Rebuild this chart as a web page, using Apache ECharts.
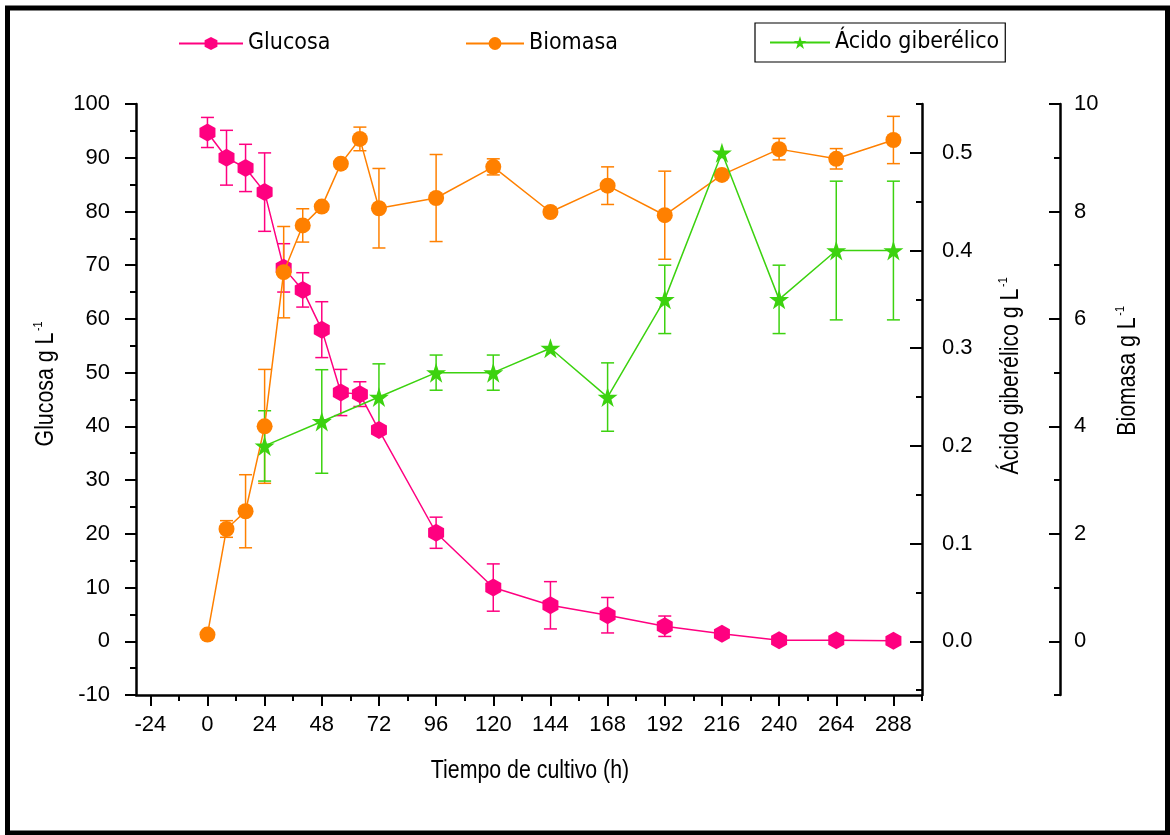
<!DOCTYPE html>
<html>
<head>
<meta charset="utf-8">
<script src="https://cdn.jsdelivr.net/npm/echarts@6.0.0/dist/echarts.min.js"></script>
<style>
html,body{margin:0;padding:0;background:#fff;}
#chart{width:1170px;height:835px;}
</style>
</head>
<body>
<div id="chart"></div>
<script>
// ---- data ----
var timeH = [0, 8, 16, 24, 32, 40, 48, 56, 64, 72, 96, 120, 144, 168, 192, 216, 240, 264, 288];
var glucose = [94.7, 90.0, 88.1, 83.6, 69.5, 65.4, 58.0, 46.3, 46.0, 39.3, 20.2, 10.0, 6.7, 4.85, 2.8, 1.4, 0.2, 0.2, 0.1];
var glucoseErr = [2.8, 5.1, 4.4, 7.3, 4.5, 3.2, 5.2, 4.3, 2.3, 0, 2.9, 4.4, 4.4, 3.3, 1.9, 0, 0, 0, 0];
var biomass = [0.125, 2.09, 2.42, 4.00, 6.87, 7.74, 8.09, 8.89, 9.35, 8.06, 8.25, 8.83, 7.99, 8.48, 7.93, 8.68, 9.16, 8.98, 9.33];
var biomassErr = [0, 0.155, 0.68, 1.06, 0.85, 0.31, 0, 0, 0.22, 0.74, 0.81, 0.15, 0, 0.35, 0.82, 0, 0.2, 0.19, 0.44];
var acidTime = [24, 48, 72, 96, 120, 144, 168, 192, 216, 240, 264, 288];
var acid = [0.200, 0.225, 0.250, 0.275, 0.275, 0.300, 0.250, 0.350, 0.500, 0.350, 0.400, 0.400];
var acidErr = [0.036, 0.053, 0.034, 0.018, 0.018, 0, 0.035, 0.035, 0, 0.035, 0.071, 0.071];

var xTicks = [-24, 0, 24, 48, 72, 96, 120, 144, 168, 192, 216, 240, 264, 288];
var xMinorTicks = [-12, 12, 36, 60, 84, 108, 132, 156, 180, 204, 228, 252, 276, 300];
var glucoseTicks = [-10, 0, 10, 20, 30, 40, 50, 60, 70, 80, 90, 100];
var glucoseMinorTicks = [-5, 5, 15, 25, 35, 45, 55, 65, 75, 85, 95];
var acidTicks = [0, 0.1, 0.2, 0.3, 0.4, 0.5];
var acidMinorTicks = [-0.05, 0.05, 0.15, 0.25, 0.35, 0.45, 0.55];
var biomassTicks = [0, 2, 4, 6, 8, 10];
var biomassMinorTicks = [-1, 1, 3, 5, 7, 9];

var seriesNames = ['Glucosa', 'Biomasa', 'Ácido giberélico'];
var colors = ['#FF0080', '#FF8000', '#3CD20F'];
var xTitle = 'Tiempo de cultivo (h)';
var yTitles = ['Glucosa g L', 'Ácido giberélico g L', 'Biomasa g L'];

// ---- styles ----
var NUM_FONT = "'Liberation Sans', Arial, sans-serif";
var TITLE_FONT = "'Liberation Sans', Arial, sans-serif";
var LEGEND_FONT = "'DejaVu Sans Condensed', 'Liberation Sans Narrow', sans-serif";
var HEX = 'path://M0,-1 L0.866,-0.5 L0.866,0.5 L0,1 L-0.866,0.5 L-0.866,-0.5 Z';
var STAR = 'path://M0,-1 L0.2245,-0.309 L0.951,-0.309 L0.363,0.118 L0.588,0.809 L0,0.382 L-0.588,0.809 L-0.363,0.118 L-0.951,-0.309 L-0.2245,-0.309 Z';

function pairs(xs, ys) { return xs.map(function (x, i) { return [x, ys[i]]; }); }
function errData(xs, ys, es) {
  var out = [];
  xs.forEach(function (x, i) { if (es[i] > 0) out.push([x, ys[i] - es[i], ys[i] + es[i]]); });
  return out;
}
function errSeries(data, yIdx, color) {
  return {
    type: 'custom', xAxisIndex: 0, yAxisIndex: yIdx, data: data, silent: true, z: 1,
    renderItem: function (params, api) {
      var lo = api.coord([api.value(0), api.value(1)]);
      var hi = api.coord([api.value(0), api.value(2)]);
      var hw = 6.5;
      var st = { stroke: color, lineWidth: 1.5 };
      return {
        type: 'group', children: [
          { type: 'line', shape: { x1: lo[0], y1: lo[1], x2: hi[0], y2: hi[1] }, style: st },
          { type: 'line', shape: { x1: lo[0] - hw, y1: lo[1], x2: lo[0] + hw, y2: lo[1] }, style: st },
          { type: 'line', shape: { x1: hi[0] - hw, y1: hi[1], x2: hi[0] + hw, y2: hi[1] }, style: st }
        ]
      };
    }
  };
}

var axisLineStyle = { color: '#000', width: 2.5 };
var tickLineStyle = { color: '#000', width: 2 };

function minorY(min, max, pos, offset, values, inside) {
  return {
    type: 'value', min: min, max: max, position: pos, offset: offset,
    axisLine: { show: false, onZero: false }, splitLine: { show: false },
    axisTick: { show: true, inside: inside, length: 6, lineStyle: tickLineStyle, customValues: values },
    axisLabel: { show: false }
  };
}
function yTitle(text, x, y) {
  return {
    type: 'text', x: x, y: y, rotation: Math.PI / 2, scaleX: 0.82, scaleY: 1,
    style: {
      text: '{a|' + text + '}{s|-1}', align: 'center', verticalAlign: 'middle', fill: '#000',
      rich: {
        a: { fontFamily: TITLE_FONT, fontSize: 26, verticalAlign: 'bottom', fill: '#000' },
        s: { fontFamily: TITLE_FONT, fontSize: 13, verticalAlign: 'bottom', padding: [0, 0, 14, 2], fill: '#000' }
      }
    }
  };
}

var chart = echarts.init(document.getElementById('chart'), null, { renderer: 'canvas' });
var legendText = { fontFamily: LEGEND_FONT, fontSize: 23, color: '#000' };
var option = {
  backgroundColor: '#fff',
  animation: false,
  grid: { left: 136, top: 104, width: 786, height: 591, containLabel: false },
  legend: [
    { data: [seriesNames[0]], left: 178, top: 32, padding: 0, itemWidth: 64, itemHeight: 16, textStyle: legendText },
    { data: [seriesNames[1]], left: 465, top: 32, padding: 0, itemWidth: 58, itemHeight: 16, textStyle: legendText },
    { data: [seriesNames[2]], left: 755, top: 23, padding: [8, 6, 8, 14], itemWidth: 60, itemHeight: 16,
      borderColor: '#000', borderWidth: 1.2, textStyle: legendText }
  ],
  xAxis: [
    {
      type: 'value', min: -30, max: 300, position: 'bottom',
      axisLine: { show: true, onZero: false, lineStyle: axisLineStyle },
      axisTick: { show: true, length: 11, lineStyle: tickLineStyle, customValues: xTicks },
      axisLabel: { customValues: xTicks, fontFamily: NUM_FONT, fontSize: 22, color: '#000', margin: 19 },
      splitLine: { show: false }
    },
    {
      type: 'value', min: -30, max: 300, position: 'bottom',
      axisLine: { show: false, onZero: false }, splitLine: { show: false },
      axisTick: { show: true, length: 6, lineStyle: tickLineStyle, customValues: xMinorTicks },
      axisLabel: { show: false }
    }
  ],
  yAxis: [
    {
      type: 'value', min: -10, max: 100, position: 'left',
      axisLine: { show: true, onZero: false, lineStyle: axisLineStyle },
      axisTick: { show: true, length: 11, lineStyle: tickLineStyle, customValues: glucoseTicks },
      axisLabel: { customValues: glucoseTicks, fontFamily: NUM_FONT, fontSize: 22, color: '#000', margin: 26 },
      splitLine: { show: false }
    },
    minorY(-10, 100, 'left', 0, glucoseMinorTicks, false),
    {
      type: 'value', min: -0.055, max: 0.55, position: 'right',
      axisLine: { show: true, onZero: false, lineStyle: axisLineStyle },
      axisTick: { show: true, inside: true, length: 12, lineStyle: tickLineStyle, customValues: acidTicks },
      axisLabel: { customValues: acidTicks, fontFamily: NUM_FONT, fontSize: 22, color: '#000', margin: 20,
        formatter: function (v) { return v.toFixed(1); } },
      splitLine: { show: false }
    },
    minorY(-0.055, 0.55, 'right', 0, acidMinorTicks, true),
    {
      type: 'value', min: -1, max: 10, position: 'right', offset: 138,
      axisLine: { show: true, onZero: false, lineStyle: axisLineStyle },
      axisTick: { show: true, inside: true, length: 11, lineStyle: tickLineStyle, customValues: biomassTicks },
      axisLabel: { customValues: biomassTicks, fontFamily: NUM_FONT, fontSize: 22, color: '#000', margin: 14 },
      splitLine: { show: false }
    },
    minorY(-1, 10, 'right', 138, biomassMinorTicks, true)
  ],
  graphic: [
    { type: 'rect', shape: { x: 7.5, y: 8, width: 1160, height: 825 }, style: { fill: 'none', stroke: '#000', lineWidth: 5 }, z: 100 },
    {
      type: 'text', x: 530, y: 771, scaleX: 0.82, scaleY: 1,
      style: { text: xTitle, fontFamily: TITLE_FONT, fontSize: 26, fill: '#000', align: 'center', verticalAlign: 'middle' }
    },
    yTitle(yTitles[0], 45, 384),
    yTitle(yTitles[1], 1010, 376),
    yTitle(yTitles[2], 1127, 371)
  ],
  series: [
    errSeries(errData(timeH, glucose, glucoseErr), 0, colors[0]),
    errSeries(errData(timeH, biomass, biomassErr), 4, colors[1]),
    errSeries(errData(acidTime, acid, acidErr), 2, colors[2]),
    {
      name: seriesNames[0], type: 'line', xAxisIndex: 0, yAxisIndex: 0, z: 3,
      data: pairs(timeH, glucose), symbol: HEX, symbolSize: [16, 18], showAllSymbol: true,
      itemStyle: { color: colors[0] }, lineStyle: { color: colors[0], width: 1.5 }
    },
    {
      name: seriesNames[1], type: 'line', xAxisIndex: 0, yAxisIndex: 4, z: 4,
      data: pairs(timeH, biomass), symbol: 'circle', symbolSize: 16, showAllSymbol: true,
      itemStyle: { color: colors[1] }, lineStyle: { color: colors[1], width: 1.5 }
    },
    {
      name: seriesNames[2], type: 'line', xAxisIndex: 0, yAxisIndex: 2, z: 5,
      data: pairs(acidTime, acid), symbol: STAR, symbolSize: 20, showAllSymbol: true,
      itemStyle: { color: colors[2] }, lineStyle: { color: colors[2], width: 1.5 }
    }
  ]
};
chart.setOption(option);
</script>
</body>
</html>
